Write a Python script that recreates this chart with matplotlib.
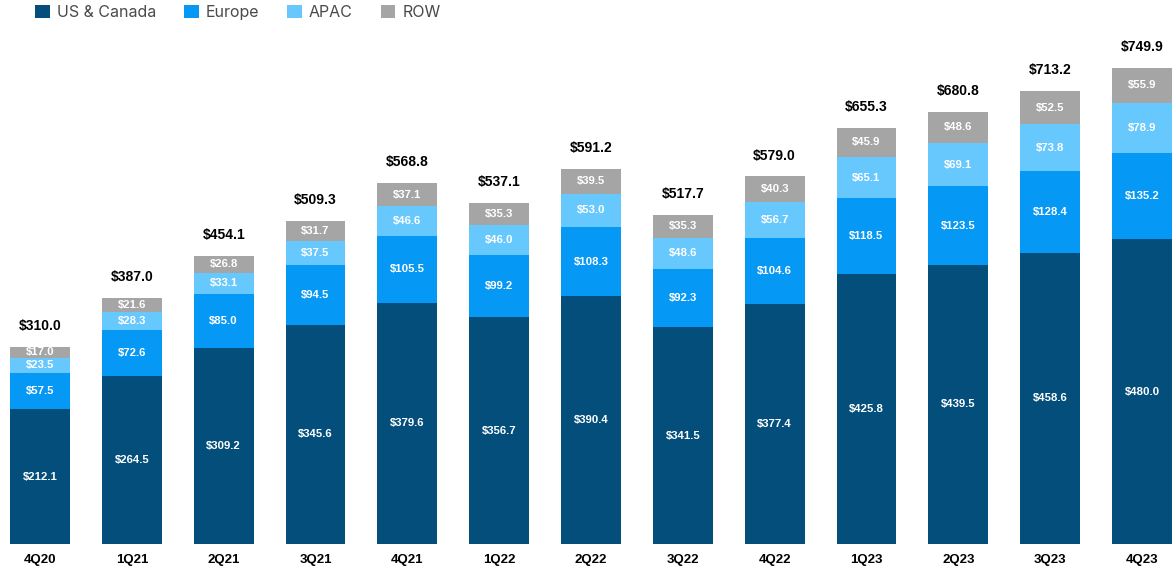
import numpy as np
import matplotlib.pyplot as plt

# quarterly revenue by region ($M)
quarters = ['4Q20', '1Q21', '2Q21', '3Q21', '4Q21', '1Q22', '2Q22',
            '3Q22', '4Q22', '1Q23', '2Q23', '3Q23', '4Q23']
us_canada = [212.1, 264.5, 309.2, 345.6, 379.6, 356.7, 390.4, 341.5, 377.4, 425.8, 439.5, 458.6, 480.0]
europe = [57.5, 72.6, 85.0, 94.5, 105.5, 99.2, 108.3, 92.3, 104.6, 118.5, 123.5, 128.4, 135.2]
apac = [23.5, 28.3, 33.1, 37.5, 46.6, 46.0, 53.0, 48.6, 56.7, 65.1, 69.1, 73.8, 78.9]
row = [17.0, 21.6, 26.8, 31.7, 37.1, 35.3, 39.5, 35.3, 40.3, 45.9, 48.6, 52.5, 55.9]
totals = [310.0, 387.0, 454.1, 509.3, 568.8, 537.1, 591.2, 517.7, 579.0, 655.3, 680.8, 713.2, 749.9]

series = [('US & Canada', us_canada, '#044E7C'),
          ('Europe', europe, '#0598F4'),
          ('APAC', apac, '#66C8FD'),
          ('ROW', row, '#A5A5A5')]

fig = plt.figure(figsize=(11.72, 5.71), dpi=100)
ax = fig.add_axes([0, 27/571, 1, 544/571])

x = np.arange(len(quarters))
w = 0.65
bottom = np.zeros(len(quarters))
handles = []
for name, vals, col in series:
    vals = np.array(vals)
    b = ax.bar(x, vals, w, bottom=bottom, color=col, lw=0, label=name)
    handles.append(b)
    for xi, v, b0 in zip(x, vals, bottom):
        ax.text(xi, b0 + v/2, f'${v:.1f}', ha='center', va='center', color='white',
                fontsize=8.2, fontweight='bold', family='Liberation Sans')
    bottom += vals

for xi, t, top in zip(x, totals, bottom):
    ax.annotate(f'${t:.1f}', (xi, top), xytext=(0, 15), textcoords='offset points',
                ha='center', va='center', fontsize=10, fontweight='bold',
                family='Liberation Sans', color='black')

ax.set_xlim(-40/91.8, 12 + 30/91.8)
ax.set_ylim(0, 544/0.635)
ax.set_xticks(x)
ax.set_xticklabels(quarters, fontsize=9.5, fontweight='bold', family='Liberation Sans')
ax.tick_params(axis='x', length=0, pad=7)
ax.set_yticks([])
for s in ax.spines.values():
    s.set_visible(False)

fig.legend(handles=handles, loc='upper left', bbox_to_anchor=(0.018, 1.017), ncol=4,
           frameon=False, handlelength=0.9, handleheight=0.9, handletextpad=0.45,
           columnspacing=1.75, prop={'family': 'Inter', 'size': 11.5}, labelcolor='#4A4A4A')

fig.savefig('out.png', dpi=100)
